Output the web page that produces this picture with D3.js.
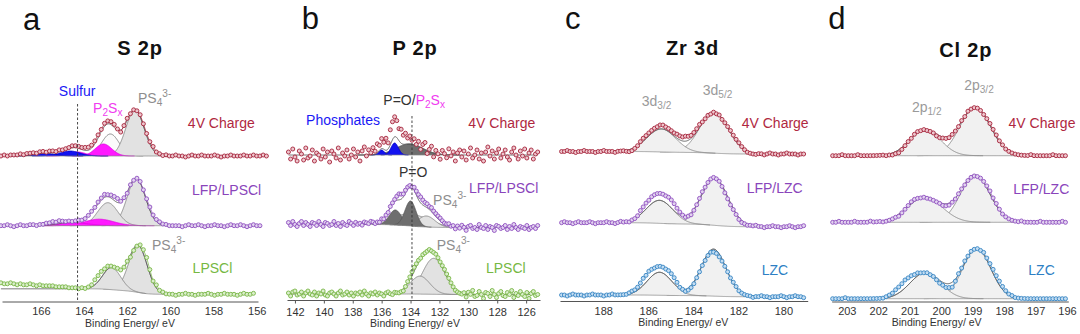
<!DOCTYPE html>
<html>
<head>
<meta charset="utf-8">
<script src="https://cdn.jsdelivr.net/npm/d3@7/dist/d3.min.js"></script>
<style>
  body { margin: 0; background: #fff; }
  svg { display: block; font-family: "Liberation Sans", Arial, Helvetica, sans-serif; }
</style>
</head>
<body>
<svg id="xps" width="1080" height="334"></svg>
<script>
// ---------- S 2p ----------
const s2pTraces = ["4V Charge", "LFP/LPSCl", "LPSCl"];
const s2pOffsets = [145.5, 75.8, 7.2];   // stacking offset of each spectrum (a.u.)
const s2pSteps = [0, 0, 5.5];            // Shirley background step
// fitted components: [spectrum, centre (eV), height, FWHM (eV), component]
const s2pPeaks = [
  [0, 161.64, 46, 1.0, "light"], [0, 162.78, 22, 0.95, "white"],
  [0, 163.1, 12, 0.9, "magenta"], [0, 164.3, 4, 0.9, "magenta"],
  [0, 164.65, 5, 1.1, "blue"], [0, 165.8, 2.5, 1.1, "blue"],
  [1, 161.58, 47, 1.0, "light"], [1, 162.9, 23, 1.1, "light"],
  [1, 163.3, 6.5, 1.6, "magenta"], [1, 164.5, 3, 1.6, "magenta"],
  [2, 161.5, 47, 1.0, "light"], [2, 162.72, 22, 1.0, "light"]
];
const s2pTicks = [166, 164, 162, 160, 158, 156];
const s2pStart = 167.85, s2pStep = 0.15;
// measured minus fit, one value per data point
const s2pChargeResid = [0,1,0,1,1,1,2,1,2,2,2,1,2,2,1,2,2,1,2,1,1,1,2,2,2,2,3,3,3,3,3,2,3,3,3,3,1,-2,1,2,0,0,0,2,2,2,2,3,1,1,
  0,1,0,0,1,0,0,-1,0,1,0,0,1,0,0,0,1,0,-1,0,0,1,0,0,0,1,0,0,1,0,0,1,0];
const s2pLfpResid = [0,0,1,0,-1,0,1,0,0,1,1,0,1,1,2,2,3,2,3,2,1,1,0,0,0,-1,-1,0,1,1,2,2,3,2,3,4,4,1,1,-1,0,-1,0,1,1,2,3,2,2,2,1,1,0,0,0,
  0,-1,0,1,0,0,1,0,-1,0,0,1,0,0,-1,0,1,0,0,1,0,-1,0,1,0,0];
const s2pLpsclResid = [6,5,5,6,5,4,5,4,4,5,4,3,4,3,3,3,3,2,2,2,2,1,1,1,0,1,0,1,2,
  5,6,6,4,3,1,0,0,-1,0,1,-2,-2,-1,2,4,6,4,1,3,1,1,0,
  0,0,-1,0,0,1,0,0,-1,0,0,0,1,0,-1,0,0,1,0,0,0,-1,0,1,0,0,1];

// ---------- P 2p ----------
const p2pTraces = ["4V Charge", "LFP/LPSCl", "LPSCl"];
const p2pOffsets = [145, 72.5, 5.5];
const p2pSteps = [0, 3, 0.5];
const p2pPeaks = [
  [0, 134.1, 11, 2.2, "dark"], [0, 136.0, 5, 0.45, "blue"], [0, 135.1, 12, 0.6, "blue"],
  [1, 134.0, 12, 3.0, "light"], [1, 132.9, 11, 1.4, "light"],
  [1, 135.05, 15, 1.0, "dark"], [1, 134.0, 25, 0.9, "dark"],
  [2, 132.4, 36, 1.8, "light"], [2, 133.35, 18, 1.6, "light"]
];
const p2pTicks = [142, 140, 138, 136, 134, 132, 130, 128, 126];
const p2pStart = 142.45, p2pStep = 0.15;
const p2pChargeResid = [3,-4,6,-2,-6,4,1,-5,7,-3,-1,5,-6,2,0,-4,6,-2,3,-7,4,1,-3,7,-5,2,-1,5,-4,0,
  6,-2,3,-6,4,8,-1,5,2,7,3,9,5,10,7,12,6,15,18,20,17,12,14,9,11,6,8,4,6,1,
  5,-2,4,7,-3,2,6,-4,3,0,-5,4,1,-3,6,-1,3,-6,2,5,-2,4,-5,1,7,-3,0,5,-4,2,
  -6,3,8,-1,4,-4,2,6,-3,1,5,-2,-5,3,7,0,-4,4,-1,6,-3,2,5,-4,1,3];
const p2pLfpResid = [2,-1,3,0,-2,1,3,-1,2,0,-2,2,1,-1,3,0,-2,2,1,-1,0,3,-1,1,-2,2,0,-1,3,1,
  -1,2,0,1,-1,2,1,0,2,1,-1,0,-1,1,-1,0,-1,1,1,2,4,6,5,3,3,2,1,0,3,4,
  5,6,5,4,4,3,4,3,3,3,3,2,1,1,2,0,1,
  -2,1,-1,2,0,-3,1,2,-1,0,-2,3,0,-1,2,-2,1,0,-3,2,1,-1,0,2,-2,1,-1,3,0,-2,1,0,-1,2,-2,0,1,-1,2];
const p2pLpsclResid = [1,-2,2,3,-1,0,2,-2,1,3,0,-1,2,-2,1,0,3,-1,-2,1,2,0,-2,1,3,-1,0,2,-1,1,
  -2,1,0,2,-1,3,0,-2,1,0,2,-1,1,0,-2,1,2,0,-1,1,0,
  -1,-1,-2,0,2,3,4,4,3,2,0,0,-1,-1,0,-1,-1,0,0,0,1,2,2,2,1,0,-1,-1,-1,-1,
  1,-3,2,0,4,-2,-1,3,0,-4,2,1,-2,4,0,-3,1,3,-1,-2,2,0,4,-3,1,-1,3,0,-2,2,-4,1,3,-1,0];

// ---------- Zr 3d ----------
const zr3dTraces = ["4V Charge", "LFP/LZC", "LZC"];
const zr3dOffsets = [147, 74.3, 4.3];
const zr3dSteps = [2.5, 4, 1.7];
const zr3dPeaks = [
  [0, 183.08, 41, 1.5, "pale"], [0, 185.42, 23, 1.5, "pale"],
  [1, 183.05, 47, 1.4, "pale"], [1, 185.5, 23, 1.4, "pale"],
  [2, 183.1, 47, 1.3, "pale"], [2, 185.5, 23, 1.3, "pale"]
];
const zr3dTicks = [188, 186, 184, 182, 180];
const zr3dStart = 189.85, zr3dStep = 0.125;
const zr3dChargeResid = [0,0,1,0,0,-1,0,0,1,0,0,0,-1,0,0,1,0,0,0,-1,0,0,0,-1,-2,-2,-1,0,2,3,
  3,3,3,3,3,4,4,3,3,3,3,4,4,4,5,4,3,3,3,3,1,0,0,-1,0,-1,0,-1,0,1,2,2,2,2,1,0,-1,-1,-1,-1,
  0,0,-1,0,1,0,0,-1,0,0,1,0,0,0,-1,0,0];
const zr3dLfpResid = [0,1,0,0,-1,0,1,0,0,0,1,0,-1,0,0,0,1,0,0,-1,0,1,0,0,-1,0,0,1,4,5,
  6,6,7,7,7,7,7,7,8,8,7,5,3,1,-1,-1,-2,-1,0,1,2,1,1,1,1,0,0,-1,-2,-2,-2,-1,-1,-2,-2,-1,-1,0,0,1,
  0,0,-1,0,0,1,0,0,-1,0,0,1,0,-1,0,0,1];
const zr3dLzcResid = [0,0,-1,0,1,0,0,0,-1,0,0,1,0,0,0,-1,0,0,1,0,0,0,0,0,1,2,2,3,5,7,
  7,8,7,6,6,6,6,6,7,7,6,4,1,0,-2,-2,-2,-2,-1,-1,-1,-2,-2,-2,-3,-3,-3,-2,-1,0,0,1,1,0,0,0,0,0,-1,0,
  0,1,0,0,-1,0,0,0,1,0,-1,0,0,1,0,0,-1];

// ---------- Cl 2p ----------
const cl2pTraces = ["4V Charge", "LFP/LZC", "LZC"];
const cl2pOffsets = [145.8, 79.2, 2.8];
const cl2pSteps = [0, 0, 0];
const cl2pPeaks = [
  [0, 198.92, 48, 1.15, "pale"], [0, 200.51, 26, 1.15, "pale"],
  [1, 198.92, 47, 1.1, "pale"], [1, 200.52, 25, 1.3, "pale"],
  [2, 198.87, 50, 1.05, "pale"], [2, 200.5, 26, 1.15, "pale"]
];
const cl2pTicks = [203, 202, 201, 200, 199, 198, 197, 196];
const cl2pStart = 203.45, cl2pStep = 0.1;
const cl2pChargeResid = [0,0,0,1,0,0,0,0,1,0,0,0,0,0,0,0,0,-1,-1,-2,-2,-3,-2,-1,0,0,1,1,0,0,
  -1,-1,-1,-2,-2,-1,-1,-1,0,0,0,1,0,1,0,0,0,0,0,1,2,2,2,1,1,0,0,0,0,0,
  0,0,0,1,0,0,0,0,0,0,1,0,0,0,0];
const cl2pLfpResid = [0,0,1,0,0,0,0,1,0,0,0,0,1,0,0,0,-1,-1,-1,-1,-1,-2,-1,0,1,2,
  2,1,0,0,-1,-1,-1,-1,-1,-2,-2,-2,-1,-1,0,0,-1,-1,-1,-1,-1,0,1,2,3,2,2,1,0,0,
  0,0,0,0,1,0,0,0,0,0,1,0,0,0,0,0,0,1,0];
const cl2pLzcResid = [0,0,0,0,1,0,0,0,0,0,0,0,0,0,0,0,0,1,2,3,5,6,7,8,7,6,
  4,3,1,0,0,-1,-1,-2,-3,-3,-4,-4,-5,-2,1,1,2,1,1,0,0,0,2,2,3,4,4,4,3,2,
  1,1,0,0,0,0,0,0,0,0,0,0,0,0,0,0,0,0,0];

// ---------- styling ----------
const styles = {
  charge: { stroke: "#a5243b", fill: "#eec6cd", text: "#b0283f" },
  lfp:    { stroke: "#8f4fbf", fill: "#e2d3ef", text: "#8a45bb" },
  lpscl:  { stroke: "#78b545", fill: "#daeecb", text: "#76b843" },
  lzc:    { stroke: "#3584c3", fill: "#c4ddf2", text: "#2e7fc4" }
};
const kinds = {
  white:   { fill: "#fbfbfb", stroke: "#6d6d6d" },
  light:   { fill: "#e2e2e2", stroke: "#7a7a7a" },
  pale:    { fill: "#f1f1f1", stroke: "#7a7a7a" },
  dark:    { fill: "#6e6e6e", stroke: "#555555" },
  magenta: { fill: "#ff19ff", stroke: "#e000e0" },
  blue:    { fill: "#1212f0", stroke: "#0000c8" }
};
const kindOrder = ["white", "light", "pale", "dark", "magenta", "blue"];
const traceStyle = name =>
  name === "4V Charge" ? styles.charge :
  name.startsWith("LFP") ? styles.lfp :
  name === "LPSCl" ? styles.lpscl : styles.lzc;

const GREY = "#8e8e8e";
const PS4 = [["PS"], ["4", "sub"], ["3-", "sup"]];
const P2SX = [["P"], ["2", "sub"], ["S"], ["x", "sub"]];

const panels = [
  {
    letter: "a", title: "S 2p", traces: s2pTraces, offsets: s2pOffsets, steps: s2pSteps,
    peaks: s2pPeaks, ticks: s2pTicks, start: s2pStart, step: s2pStep,
    resid: [s2pChargeResid, s2pLfpResid, s2pLpsclResid],
    domain: [167.8, 155.94], range: [2, 258], axisY: 301.5, tickSize: 0, tickPad: 5.8,
    letterPos: [23, 30], titlePos: [140, 55], axisTitlePos: [130, 326.5],
    dash: { e: 164.3, top: 104 }, joined: [true, true, true],
    labelAt: [[159.19, 128], [159.0, 195], [158.97, 273]],
    notes: [
      { parts: [["Sulfur"]], e: 164.32, y: 95.5, fill: "#1a1af5", anchor: "middle" },
      { parts: P2SX, e: 163.58, y: 113, fill: "#f03cf0" },
      { parts: PS4, e: 161.5, y: 103, fill: GREY },
      { parts: PS4, e: 160.85, y: 250, fill: GREY }
    ]
  },
  {
    letter: "b", title: "P 2p", traces: p2pTraces, offsets: p2pOffsets, steps: p2pSteps,
    peaks: p2pPeaks, ticks: p2pTicks, start: p2pStart, step: p2pStep,
    resid: [p2pChargeResid, p2pLfpResid, p2pLpsclResid],
    domain: [142.55, 125.04], range: [287, 540], axisY: 300, tickSize: 3.5, tickPad: 4.5,
    letterPos: [301.7, 29], titlePos: [415, 55], axisTitlePos: [415, 326.5],
    dash: { e: 133.9, top: 116 }, joined: [false, true, true],
    labelAt: [[130.0, 128], [129.95, 193], [128.78, 273]],
    notes: [
      { parts: [["P=O/"], ["P", "", "#f03cf0"], ["2", "sub", "#f03cf0"], ["S", "", "#f03cf0"], ["x", "sub", "#f03cf0"]],
        e: 135.88, y: 105, fill: "#333" },
      { parts: [["Phosphates"]], e: 141.23, y: 124.5, fill: "#1a1af5" },
      { parts: [["P=O"]], e: 134.8, y: 177, fill: "#333" },
      { parts: PS4, e: 132.44, y: 205, fill: GREY },
      { parts: PS4, e: 132.19, y: 250, fill: GREY }
    ]
  },
  {
    letter: "c", title: "Zr 3d", traces: zr3dTraces, offsets: zr3dOffsets, steps: zr3dSteps,
    peaks: zr3dPeaks, ticks: zr3dTicks, start: zr3dStart, step: zr3dStep,
    resid: [zr3dChargeResid, zr3dLfpResid, zr3dLzcResid],
    domain: [189.92, 178.92], range: [560, 807.7], axisY: 301, tickSize: 0, tickPad: 6,
    letterPos: [565, 29], titlePos: [692.5, 55], axisTitlePos: [683.3, 326],
    dash: null, joined: [true, true, true],
    labelAt: [[181.85, 127.7], [181.63, 193.3], [180.96, 275]],
    notes: [
      { parts: [["3d"], ["3/2", "sub"]], e: 186.29, y: 105.5, fill: "#9a9a9a" },
      { parts: [["3d"], ["5/2", "sub"]], e: 183.58, y: 94.5, fill: "#9a9a9a" }
    ]
  },
  {
    letter: "d", title: "Cl 2p", traces: cl2pTraces, offsets: cl2pOffsets, steps: cl2pSteps,
    peaks: cl2pPeaks, ticks: cl2pTicks, start: cl2pStart, step: cl2pStep,
    resid: [cl2pChargeResid, cl2pLfpResid, cl2pLzcResid],
    domain: [203.48, 195.96], range: [831.7, 1068.3], axisY: 301.5, tickSize: 0, tickPad: 5.8,
    letterPos: [828.3, 29], titlePos: [965.8, 56.5], axisTitlePos: [936.7, 326],
    dash: null, joined: [true, true, true],
    labelAt: [[197.86, 127.7], [197.71, 194.3], [197.23, 275]],
    notes: [
      { parts: [["2p"], ["1/2", "sub"]], e: 200.93, y: 111.7, fill: "#9a9a9a" },
      { parts: [["2p"], ["3/2", "sub"]], e: 199.27, y: 90, fill: "#9a9a9a" }
    ]
  }
];

// ---------- peak model ----------
function gauss(e, pk) {
  const u = (e - pk[1]) / pk[3];
  return pk[2] * Math.exp(-4 * Math.LN2 * u * u);
}
function erf(v) {
  const s = Math.sign(v), a = Math.abs(v);
  const t = 1 / (1 + 0.3275911 * a);
  const y = 1 - (((((1.061405429 * t - 1.453152027) * t) + 1.421413741) * t - 0.284496736) * t + 0.254829592) * t * Math.exp(-a * a);
  return s * y;
}
function cdf(e, pk) {
  const sigma = pk[3] / (2 * Math.sqrt(2 * Math.LN2));
  return 0.5 * (1 + erf((e - pk[1]) / (sigma * Math.SQRT2)));
}

function richText(g, x, y, parts, fill, size, anchor) {
  const t = g.append("text").attr("x", x).attr("y", y)
    .attr("font-size", size).attr("fill", fill).attr("text-anchor", anchor || "start");
  let cur = 0;
  parts.forEach(([s, mode, col]) => {
    const shift = mode === "sub" ? size * 0.22 : mode === "sup" ? -size * 0.42 : 0;
    t.append("tspan").attr("dy", shift - cur)
      .attr("font-size", mode ? size * 0.72 : size)
      .attr("fill", col || null).text(s);
    cur = shift;
  });
  return t;
}

const svg = d3.select("#xps");
svg.append("rect").attr("width", 1080).attr("height", 334).attr("fill", "#fff");

function drawPanel(p) {
  const g = svg.append("g");
  const x = d3.scaleLinear().domain(p.domain).range(p.range);
  const y = d3.scaleLinear().domain([0, 150]).range([p.axisY, p.axisY - 150]);

  p.traces.forEach((name, t) => {
    const st = traceStyle(name);
    const pks = p.peaks.filter(d => d[0] === t)
      .sort((a, b) => kindOrder.indexOf(a[4]) - kindOrder.indexOf(b[4]));
    const total = d3.sum(pks, d => d[2] * d[3]);
    const fit = e => d3.sum(pks, d => gauss(e, d));
    const bg = e => p.offsets[t] + p.steps[t] * d3.sum(pks, d => d[2] * d[3] * cdf(e, d)) / total;

    // fitted components sitting on the Shirley background
    pks.forEach(pk => {
      const es = d3.range(pk[1] - 1.6 * pk[3], pk[1] + 1.6 * pk[3] + 0.005, 0.01);
      const k = kinds[pk[4]];
      g.append("path").datum(es)
        .attr("d", d3.area().x(e => x(e)).y0(e => y(bg(e))).y1(e => y(bg(e) + gauss(e, pk))))
        .attr("fill", k.fill);
      g.append("path").datum(es)
        .attr("d", d3.line().x(e => x(e)).y(e => y(bg(e) + gauss(e, pk))))
        .attr("fill", "none").attr("stroke", k.stroke).attr("stroke-width", 0.8);
    });

    const lo = d3.min(pks, d => d[1] - 1.6 * d[3]);
    const hi = d3.max(pks, d => d[1] + 1.6 * d[3]);
    g.append("path").datum(d3.range(lo, hi, 0.02))
      .attr("d", d3.line().x(e => x(e)).y(e => y(bg(e))))
      .attr("fill", "none").attr("stroke", "#8a8a8a").attr("stroke-width", 0.8);

    // measured points
    const res = p.resid[t];
    const pts = res.map((r, i) => {
      const e = p.start - p.step * i;
      return [e, bg(e) + fit(e) + r];
    });

    // fit envelope across the scan window
    const eEnd = pts[pts.length - 1][0];
    g.append("path").datum(d3.range(eEnd, p.start + 0.005, 0.02))
      .attr("d", d3.line().x(e => x(e)).y(e => y(bg(e) + fit(e))))
      .attr("fill", "none").attr("stroke", "#555").attr("stroke-width", 0.9);

    if (p.joined[t]) {
      g.append("path").datum(pts)
        .attr("d", d3.line().x(d => x(d[0])).y(d => y(d[1])))
        .attr("fill", "none").attr("stroke", st.stroke).attr("stroke-width", 0.7);
    }
    g.append("g").selectAll("circle").data(pts).join("circle")
      .attr("cx", d => x(d[0])).attr("cy", d => y(d[1])).attr("r", 2)
      .attr("fill", st.fill).attr("stroke", st.stroke).attr("stroke-width", 0.9);

    // spectrum name
    g.append("text").attr("x", x(p.labelAt[t][0])).attr("y", p.labelAt[t][1])
      .attr("font-size", 14).attr("fill", st.text).text(name);
  });

  // x axis
  const ax = g.append("g").attr("transform", `translate(0,${p.axisY})`)
    .call(d3.axisBottom(x).tickValues(p.ticks).tickSize(p.tickSize).tickSizeOuter(0).tickPadding(p.tickPad));
  ax.attr("font-family", null).attr("font-size", null);
  ax.select(".domain").attr("stroke", "#555");
  ax.selectAll(".tick line").attr("stroke", "#555");
  ax.selectAll(".tick text").attr("font-size", 11).attr("fill", "#333");

  g.append("text").attr("x", p.axisTitlePos[0]).attr("y", p.axisTitlePos[1])
    .attr("text-anchor", "middle").attr("font-size", 10.5).attr("fill", "#333")
    .text("Binding Energy/ eV");

  // reference line
  if (p.dash) {
    g.append("line")
      .attr("x1", x(p.dash.e)).attr("x2", x(p.dash.e))
      .attr("y1", p.dash.top).attr("y2", p.axisY)
      .attr("stroke", "#333").attr("stroke-width", 0.9).attr("stroke-dasharray", "2.5,2");
  }

  // peak assignments
  p.notes.forEach(n => richText(g, x(n.e), n.y, n.parts, n.fill, 14, n.anchor));

  g.append("text").attr("x", p.letterPos[0]).attr("y", p.letterPos[1])
    .attr("font-size", 31).attr("fill", "#111").text(p.letter);
  g.append("text").attr("x", p.titlePos[0]).attr("y", p.titlePos[1])
    .attr("text-anchor", "middle").attr("font-size", 20).attr("font-weight", "bold")
    .attr("letter-spacing", 0.8).attr("fill", "#111").text(p.title);
}

panels.forEach(drawPanel);
</script>
</body>
</html>
